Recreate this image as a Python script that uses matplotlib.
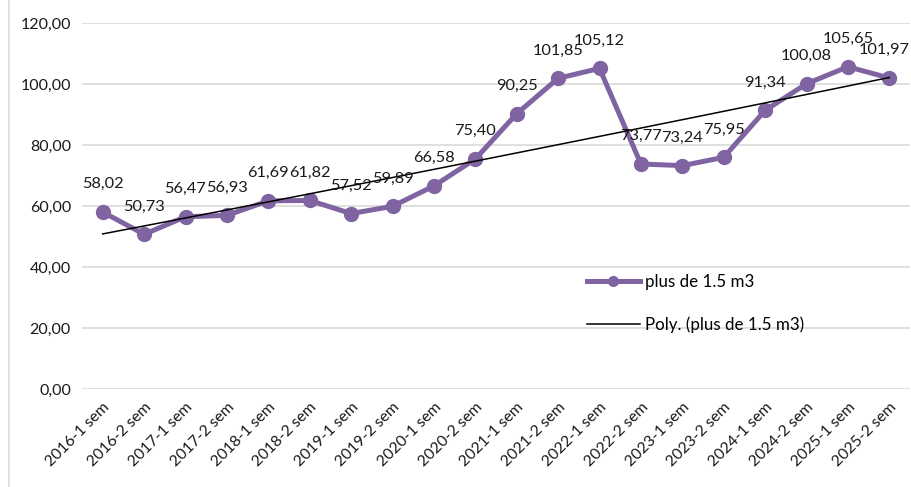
import numpy as np
import matplotlib.pyplot as plt
from matplotlib.lines import Line2D

plt.rcParams['font.family'] = ['Lato', 'DejaVu Sans']

# Semesters and values
periods = ['2016-1 sem', '2016-2 sem', '2017-1 sem', '2017-2 sem', '2018-1 sem',
           '2018-2 sem', '2019-1 sem', '2019-2 sem', '2020-1 sem', '2020-2 sem',
           '2021-1 sem', '2021-2 sem', '2022-1 sem', '2022-2 sem', '2023-1 sem',
           '2023-2 sem', '2024-1 sem', '2024-2 sem', '2025-1 sem', '2025-2 sem']
values = [58.02, 50.73, 56.47, 56.93, 61.69, 61.82, 57.52, 59.89, 66.58, 75.40,
          90.25, 101.85, 105.12, 73.77, 73.24, 75.95, 91.34, 100.08, 105.65, 101.97]
yticks = [0, 20, 40, 60, 80, 100, 120]

purple = '#8064A2'
x = np.arange(len(periods))

# polynomial trend (order 2, like Excel's default)
coef = np.polyfit(x, values, 2)
trend = np.polyval(coef, x)

fig = plt.figure(figsize=(9.12, 4.87), dpi=100)
ax = fig.add_axes([82/912, 1-389/487, (910-82)/912, (389-23)/487])

ax.plot(x, values, color=purple, lw=3.6, marker='o', ms=10, label='plus de 1.5 m3', zorder=3)
ax.plot(x, trend, color='black', lw=1.1, label='Poly. (plus de 1.5 m3)', zorder=4)

for i, (xi, v) in enumerate(zip(x, values)):
    dx = -4 if i == len(values) - 1 else 0  # last label pushed in from the edge
    ax.annotate(f'{v:.2f}'.replace('.', ','), (xi, v), xytext=(dx, 20), textcoords='offset points',
                ha='center', va='center', fontsize=11.8, color='#1a1a1a', zorder=5)

ax.set_xlim(-0.5, len(periods) - 0.5)
ax.set_ylim(0, 120)
ax.set_yticks(yticks)
ax.set_yticklabels([f'{t:.2f}'.replace('.', ',') for t in yticks], fontsize=11.5, color='#1a1a1a')
ax.set_xticks(x)
ax.set_xticklabels(periods, rotation=45, ha='right', rotation_mode='anchor', fontsize=11.3, color='#1a1a1a')
ax.tick_params(length=0, pad=8)
ax.grid(axis='y', color='#D9D9D9', lw=1.2)
ax.set_axisbelow(True)
for s in ax.spines.values():
    s.set_visible(False)

leg = fig.legend(loc='upper left', bbox_to_anchor=(587/912, 1-274/487), frameon=False,
                 fontsize=12.2, handlelength=3.1, handletextpad=0.3, labelspacing=1.55,
                 borderpad=0, borderaxespad=0, markerscale=0.7)

# chart frame line on the left
fig.add_artist(Line2D([9.5/912, 9.5/912], [0, 1], transform=fig.transFigure, color='#D9D9D9', lw=1.2))

fig.savefig('out.png', dpi=100)
